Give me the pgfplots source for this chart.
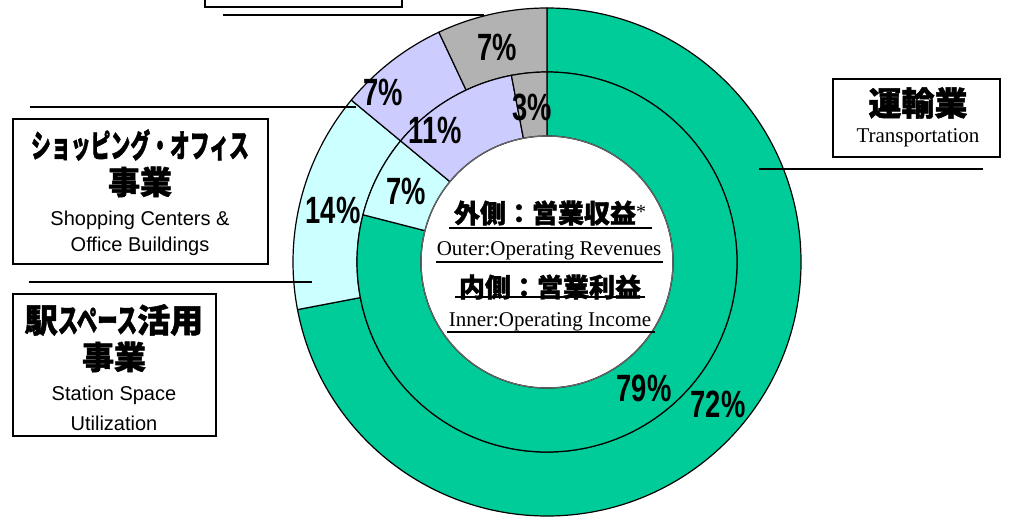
\documentclass[border=0pt]{standalone}
\usepackage{fontspec}
\usepackage{graphicx}
\usepackage{pgfplots}
\usepackage{pgfplotstable}
\pgfplotsset{compat=1.18}
\setmainfont{Liberation Serif}
\newfontfamily\arial{Liberation Sans}
\newfontfamily\jp{Noto Sans CJK JP}[BoldFeatures={FakeBold=1.5}]

\definecolor{seg0}{RGB}{0,204,153}   % transportation
\definecolor{seg1}{RGB}{204,255,255} % station space
\definecolor{seg2}{RGB}{204,204,255} % shopping / office
\definecolor{seg3}{RGB}{178,178,178} % other

% outer ring: operating revenues, inner ring: operating income (%)
\pgfplotstableread{
segment share
transport 72
station 14
shopping 7
other 7
}\outerdata
\pgfplotstableread{
segment share
transport 79
station 7
shopping 11
other 3
}\innerdata

% cumulative angles, clockwise from 12 o'clock
\newcommand\mkangles[2]{%
  \gdef\cumsum{0}%
  \expandafter\xdef\csname #2a0\endcsname{90}%
  \pgfplotstableforeachcolumnelement{share}\of#1\as\v{%
    \pgfmathparse{\cumsum+\v}\xdef\cumsum{\pgfmathresult}%
    \pgfmathtruncatemacro\n{\pgfplotstablerow+1}%
    \pgfmathparse{90-3.6*\cumsum}%
    \expandafter\xdef\csname #2a\n\endcsname{\pgfmathresult}%
  }%
}
\mkangles\outerdata{out}
\mkangles\innerdata{in}

% ring sector: start angle, end angle, inner r, outer r, colour
\newcommand\sector[5]{%
  \filldraw[fill=#5, draw=black, line width=1.2pt, line join=round]
    (axis cs:{547+#3*cos(#1)},{261+#3*sin(#1)})
    -- (axis cs:{547+#4*cos(#1)},{261+#4*sin(#1)})
    arc[start angle=#1, end angle=#2, radius=#4]
    -- (axis cs:{547+#3*cos(#2)},{261+#3*sin(#2)})
    arc[start angle=#2, end angle=#1, radius=#3]
    -- cycle;
}

\newcommand\pct{\arial\bfseries\fontsize{38}{38}\selectfont}
\newcommand\jpb[1]{\jp\bfseries\fontsize{#1}{#1}\selectfont}
\newcommand\en{\arial\fontsize{20}{22}\selectfont}

\begin{document}
\begin{tikzpicture}
\begin{axis}[
    x=1pt, y=1pt,
    xmin=0, xmax=1011, ymin=0, ymax=523,
    hide axis, clip=false,
]
\coordinate (sw) at (axis cs:0,0);
\coordinate (ne) at (axis cs:1011,523);

\pgfplotsinvokeforeach{0,...,3}{%
  \sector{\csname outa#1\endcsname}{\csname outa\the\numexpr#1+1\relax\endcsname}{190}{254}{seg#1}
}
\pgfplotsinvokeforeach{0,...,3}{%
  \sector{\csname ina#1\endcsname}{\csname ina\the\numexpr#1+1\relax\endcsname}{126}{190}{seg#1}
}
\draw[line width=1.2pt, black!60] (axis cs:547,261) circle[radius=126];

% percentage labels
\node[inner sep=0] at (axis cs:718,119) {\pct\scalebox{0.72}[1]{72\%}};
\node[inner sep=0] at (axis cs:644,135) {\pct\scalebox{0.72}[1]{79\%}};
\node[inner sep=0] at (axis cs:333,313) {\pct\scalebox{0.72}[1]{14\%}};
\node[inner sep=0] at (axis cs:406,332) {\pct\scalebox{0.72}[1]{7\%}};
\node[inner sep=0] at (axis cs:435,393) {\pct\scalebox{0.72}[1]{11\%}};
\node[inner sep=0] at (axis cs:383,431) {\pct\scalebox{0.72}[1]{7\%}};
\node[inner sep=0] at (axis cs:497,476) {\pct\scalebox{0.72}[1]{7\%}};
\node[inner sep=0] at (axis cs:532,416) {\pct\scalebox{0.72}[1]{3\%}};

% centre legend
\node[inner sep=0] at (axis cs:550,310) {\jpb{26}外側：営業収益\raisebox{4pt}{\rmfamily\mdseries\fontsize{20}{20}\selectfont*}};
\node[inner sep=0] at (axis cs:549,272) {\fontsize{21}{21}\selectfont Outer:Operating Revenues};
\node[inner sep=0] at (axis cs:550,236) {\jpb{26}内側：営業利益};
\node[inner sep=0] at (axis cs:550,201) {\fontsize{21}{21}\selectfont Inner:Operating Income};
\draw[line width=1.3pt] (axis cs:449,295) -- (axis cs:652,295);
\draw[line width=1.3pt] (axis cs:436,261) -- (axis cs:663,261);
\draw[line width=1.3pt] (axis cs:455,226) -- (axis cs:645,226);
\draw[line width=1.3pt] (axis cs:447,191) -- (axis cs:655,191);

% boxes and leader lines
\draw[line width=1.3pt] (axis cs:205,523) -- (axis cs:205,516) -- (axis cs:402,516) -- (axis cs:402,523);
\draw[line width=1.3pt] (axis cs:13,259) rectangle (axis cs:268,404);
\draw[line width=1.3pt] (axis cs:13,87) rectangle (axis cs:216,229);
\draw[line width=1.3pt] (axis cs:833,366) rectangle (axis cs:1000,444);
\draw[line width=1.2pt] (axis cs:223,508) -- (axis cs:484,508);
\draw[line width=1.2pt] (axis cs:30,416) -- (axis cs:356,416);
\draw[line width=1.2pt] (axis cs:29,241) -- (axis cs:312,241);
\draw[line width=1.2pt] (axis cs:759,354) -- (axis cs:983,354);

\node[inner sep=0] at (axis cs:140,378) {\jpb{32}\scalebox{0.62}[1]{ショッピング・オフィス}};
\node[inner sep=0] at (axis cs:140,341) {\jpb{32}事業};
\node[inner sep=0] at (axis cs:140,303) {\en Shopping Centers \&};
\node[inner sep=0] at (axis cs:140,277) {\en Office Buildings};

\node[inner sep=0] at (axis cs:114,203) {\jpb{33}駅\scalebox{0.62}[1]{スペース}活用};
\node[inner sep=0] at (axis cs:114,166) {\jpb{32}事業};
\node[inner sep=0] at (axis cs:114,128) {\en Station Space};
\node[inner sep=0] at (axis cs:114,100) {\en Utilization};

\node[inner sep=0] at (axis cs:918,420) {\jpb{33}運輸業};
\node[inner sep=0] at (axis cs:918,385) {\fontsize{21}{21}\selectfont Transportation};
\end{axis}
\pgfresetboundingbox
\path[use as bounding box] (sw) rectangle (ne);
\end{tikzpicture}
\end{document}
